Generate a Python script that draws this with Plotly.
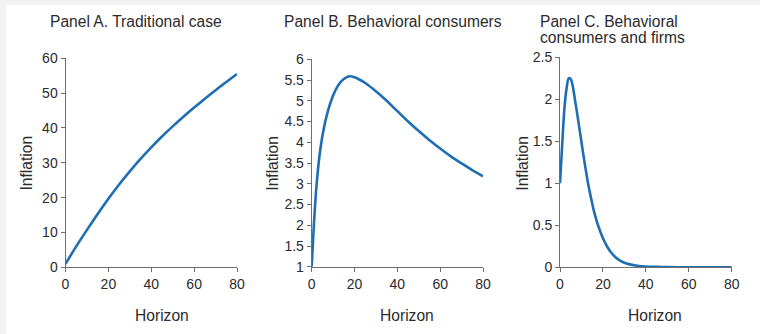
import plotly.graph_objects as go

# ---------------- data ----------------
horizon_a = [0, 5, 10, 15, 20, 25, 30, 35, 40, 45, 50, 55, 60, 65, 70, 75, 80]
inflation_a = [1.0, 6.0, 10.75, 15.3, 19.65, 23.75, 27.55, 31.1, 34.45, 37.55, 40.45,
               43.2, 45.85, 48.4, 50.85, 53.2, 55.5]

horizon_b = [0, 1, 2, 3, 4, 5, 6, 7, 8, 9, 10, 12, 14, 16, 18, 20, 22, 25, 30,
             35, 40, 45, 50, 55, 60, 65, 70, 75, 80]
inflation_b = [1.0, 2.0, 2.8, 3.38, 3.82, 4.15, 4.42, 4.64, 4.83, 4.99, 5.13, 5.34,
               5.48, 5.56, 5.59, 5.565, 5.52, 5.43, 5.23, 5.0, 4.75, 4.5, 4.27,
               4.05, 3.85, 3.66, 3.49, 3.33, 3.18]

horizon_c = [0, 1, 2, 3, 4, 5, 6, 7, 8, 9, 10, 11, 12, 13, 14, 15, 16, 17, 18,
             19, 20, 22, 24, 26, 28, 30, 33, 36, 40, 45, 50, 60, 70, 80]
inflation_c = [1.0, 1.45, 1.87, 2.12, 2.25, 2.24, 2.15, 1.99, 1.83, 1.66, 1.49,
               1.32, 1.16, 1.01, 0.88, 0.76, 0.65, 0.56, 0.48, 0.41, 0.345,
               0.245, 0.17, 0.117, 0.08, 0.055, 0.032, 0.019, 0.01, 0.005,
               0.002, 0.001, 0.0, 0.0]

x_ticks = [0, 20, 40, 60, 80]
y_ticks_a = [0, 10, 20, 30, 40, 50, 60]
y_ticks_b = [1, 1.5, 2, 2.5, 3, 3.5, 4, 4.5, 5, 5.5, 6]
y_labels_b = ["1", "1.5", "2", "2.5", "3", "3.5", "4", "4.5", "5", "5.5", "6"]
y_ticks_c = [0, 0.5, 1, 1.5, 2, 2.5]
y_labels_c = ["0", "0.5", "1", "1.5", "2", "2.5"]

titles = ["Panel A. Traditional case", "Panel B. Behavioral consumers"]
title_c = ["Panel C. Behavioral", "consumers and firms"]
x_title = "Horizon"
y_title = "Inflation"

# ---------------- layout helpers ----------------
W, H = 760, 334
FONT = "Liberation Sans, Arial, Helvetica, sans-serif"
TXT = "#2b2b2b"
AX = "#6e6e6e"
BLUE = "#1f6db4"


def px(x):
    return x / W


def py(y):
    return (H - y) / H


fig = go.Figure()

panels = [
    (horizon_a, inflation_a, (65.5, 237.0), (58.3, 267.3), [0, 60], y_ticks_a, [str(v) for v in y_ticks_a]),
    (horizon_b, inflation_b, (311.7, 483.0), (59.3, 266.8), [1, 6], y_ticks_b, y_labels_b),
    (horizon_c, inflation_c, (560.0, 731.7), (57.3, 267.3), [0, 2.5], y_ticks_c, y_labels_c),
]

for i, (hx, hy, xd, yd, yr, yt, yl) in enumerate(panels, start=1):
    xa = "x" if i == 1 else f"x{i}"
    ya = "y" if i == 1 else f"y{i}"
    fig.add_trace(go.Scatter(x=hx, y=hy, mode="lines",
                             line=dict(color=BLUE, width=2.6, shape="spline", smoothing=0.7),
                             xaxis=xa, yaxis=ya, showlegend=False, cliponaxis=False))
    common = dict(showgrid=False, zeroline=False, showline=True, linecolor=AX, linewidth=1,
                  ticks="outside", ticklen=4, tickcolor=AX, tickwidth=1,
                  tickfont=dict(family=FONT, size=14, color=TXT), automargin=False)
    xkey = "xaxis" if i == 1 else f"xaxis{i}"
    ykey = "yaxis" if i == 1 else f"yaxis{i}"
    fig.update_layout(**{
        xkey: dict(common, domain=[px(xd[0]), px(xd[1])], range=[0, 80],
                   tickvals=x_ticks, anchor=ya),
        ykey: dict(common, domain=[py(yd[1]), py(yd[0])], range=yr,
                   tickvals=yt, ticktext=yl, anchor=xa, ticklabelstandoff=0),
    })

annotations = []
# panel titles
annotations.append(dict(text=titles[0], x=px(47.5), y=py(22), xanchor="left", yanchor="middle"))
annotations.append(dict(text=titles[1], x=px(281.5), y=py(22), xanchor="left", yanchor="middle"))
annotations.append(dict(text=title_c[0], x=px(538), y=py(21.5), xanchor="left", yanchor="middle"))
annotations.append(dict(text=title_c[1], x=px(538), y=py(37.2), xanchor="left", yanchor="middle"))
# axis titles
for cx in [161.5, 407.0, 655.3]:
    annotations.append(dict(text=x_title, x=px(cx), y=py(315), xanchor="center", yanchor="middle"))
for cx in [25.5, 271.7, 521.7]:
    annotations.append(dict(text=y_title, x=px(cx), y=py(163), xanchor="center", yanchor="middle",
                            textangle=-90))
for a in annotations:
    a.update(xref="paper", yref="paper", showarrow=False,
             font=dict(family=FONT, size=15.6, color=TXT))

fig.update_layout(
    width=W, height=H, autosize=False,
    margin=dict(l=0, r=0, t=0, b=0),
    paper_bgcolor="#f3f3f3", plot_bgcolor="rgba(0,0,0,0)",
    annotations=annotations,
    shapes=[dict(type="rect", xref="paper", yref="paper", x0=px(6), x1=1.0, y0=0.0, y1=py(5),
                 fillcolor="white", line=dict(width=0), layer="below")],
)

fig.write_html("out.html", config={"displayModeBar": False},
               post_script="document.body.style.margin='0';document.body.style.overflow='hidden';")
